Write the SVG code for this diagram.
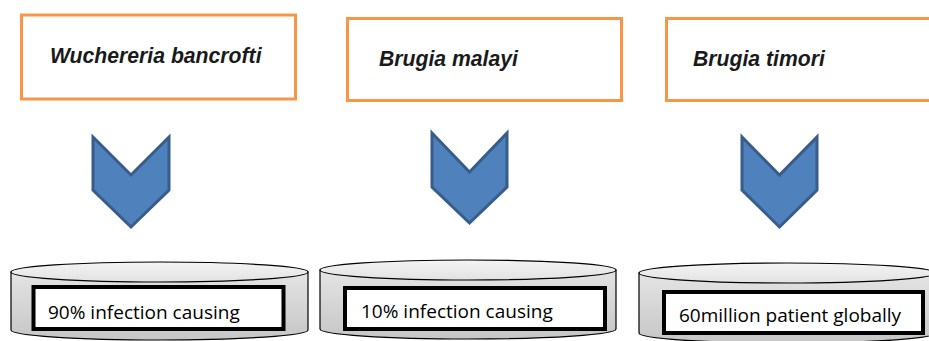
<svg xmlns="http://www.w3.org/2000/svg" width="929" height="341" viewBox="0 0 929 341">
  <defs>
    <linearGradient id="sideGrad" x1="0" y1="0" x2="0" y2="1">
      <stop offset="0" stop-color="#e4e4e4"/>
      <stop offset="1" stop-color="#c6c6c6"/>
    </linearGradient>
    <linearGradient id="topGrad" x1="0" y1="0" x2="0" y2="1">
      <stop offset="0" stop-color="#f4f4f4"/>
      <stop offset="1" stop-color="#e2e2e2"/>
    </linearGradient>
  </defs>
  <style>
    .species { fill: #ffffff; stroke: #f79646; stroke-width: 3; }
    .species-label { font-family: "Liberation Sans", Arial, sans-serif; font-size: 21.2px; font-weight: bold; font-style: italic; fill: #1a1a1a; }
    .chevron { fill: #4f81bd; stroke: #385d8a; stroke-width: 3; stroke-linejoin: miter; }
    .cyl-side { fill: url(#sideGrad); stroke: #000000; stroke-width: 1.2; }
    .cyl-top { fill: url(#topGrad); stroke: #000000; stroke-width: 1.2; }
    .fact { fill: #ffffff; stroke: #000000; stroke-width: 4; }
    .fact-label { font-family: "Open Sans", "Noto Sans", sans-serif; font-size: 19px; fill: #000000; }
  </style>

  <rect width="929" height="341" fill="#ffffff"/>

  <!-- species boxes -->
  <g id="wuchereria">
    <rect class="species" x="21.5" y="15" width="274" height="84"/>
    <text class="species-label" x="50" y="63">Wuchereria bancrofti</text>
  </g>
  <g id="malayi">
    <rect class="species" x="347.5" y="18.5" width="274" height="82"/>
    <text class="species-label" x="379" y="66">Brugia malayi</text>
  </g>
  <g id="timori">
    <rect class="species" x="666.5" y="18.5" width="300" height="82"/>
    <text class="species-label" x="693" y="66">Brugia timori</text>
  </g>

  <!-- downward chevrons linking each species to its figure -->
  <g id="connectors">
    <path class="chevron" d="M93,137 L131,175 L169,137 L169,190 L131,227 L93,190 Z"/>
    <path class="chevron" d="M432,133 L469.5,172 L507,133 L507,187 L469.5,223 L432,187 Z"/>
    <path class="chevron" d="M742,137 L779.5,175 L817,137 L817,190 L779.5,227 L742,190 Z"/>
  </g>

  <!-- cylinders with fact labels -->
  <g id="fact-wuchereria">
    <path class="cyl-side" d="M11,272 L11,330 A148.5,10 0 0 0 308,330 L308,272 Z"/>
    <ellipse class="cyl-top" cx="159.5" cy="272" rx="148.5" ry="10"/>
    <rect class="fact" x="33.5" y="287" width="250" height="42"/>
    <text class="fact-label" x="48" y="319">90% infection causing</text>
  </g>
  <g id="fact-malayi">
    <path class="cyl-side" d="M320,270 L320,329 A148,10 0 0 0 616,329 L616,270 Z"/>
    <ellipse class="cyl-top" cx="468" cy="270" rx="148" ry="10"/>
    <rect class="fact" x="345" y="288" width="260" height="41"/>
    <text class="fact-label" x="361" y="318">10% infection causing</text>
  </g>
  <g id="fact-timori">
    <path class="cyl-side" d="M639,273 L639,333 A148,10 0 0 0 935,333 L935,273 Z"/>
    <ellipse class="cyl-top" cx="787" cy="273" rx="148" ry="10"/>
    <rect class="fact" x="664" y="292" width="259" height="41"/>
    <text class="fact-label" x="679" y="322">60million patient globally</text>
  </g>
</svg>
